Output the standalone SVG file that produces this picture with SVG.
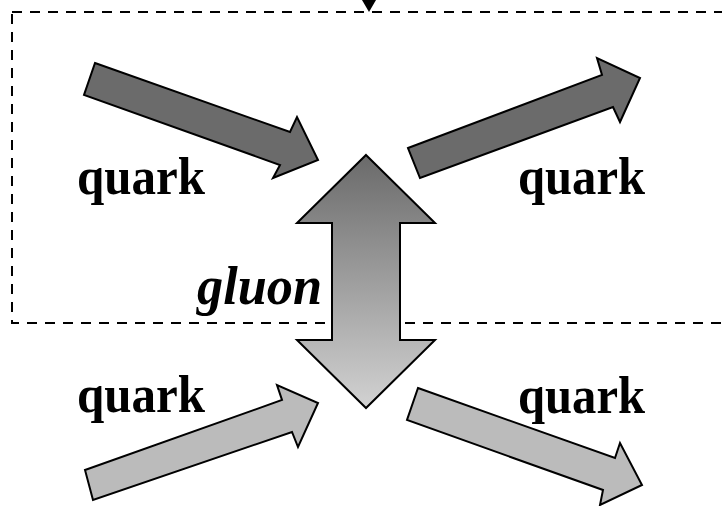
<svg xmlns="http://www.w3.org/2000/svg" width="722" height="506" viewBox="0 0 722 506">
<defs>
<linearGradient id="gg" x1="0" y1="0" x2="0" y2="1">
<stop offset="0" stop-color="#6a6a6a"/>
<stop offset="1" stop-color="#d2d2d2"/>
</linearGradient>
<style>
.box{fill:none;stroke:#000;stroke-width:2;stroke-dasharray:10 8}
.dark{fill:#6b6b6b;stroke:#000;stroke-width:2;stroke-linejoin:miter}
.light{fill:#bbbbbb;stroke:#000;stroke-width:2;stroke-linejoin:miter}
.q{font-family:"Liberation Serif",serif;font-weight:bold;font-size:52px;fill:#000}
.g{font-family:"Liberation Serif",serif;font-weight:bold;font-style:italic;font-size:54px;fill:#000}
</style>
</defs>
<g id="frame">
<rect class="box" x="12" y="12" width="730" height="311"/>
<polygon points="362,0 376,0 369,12" fill="#000"/>
</g>
<g id="connectors">
<polygon id="arrow-tl" class="dark" points="95,63 290,132 297,117 318,160 273,178 280,165 84,95"/>
<polygon id="arrow-tr" class="dark" points="408,148 602,75 597,58 640,78 620,122 613,107 420,178"/>
<polygon id="arrow-bl" class="light" points="85,470 282,400 277,385 318,403 298,447 292,432 93,500"/>
<polygon id="arrow-br" class="light" points="418,388 615,458 620,443 642,485 600,505 603,490 407,420"/>
</g>
<g id="gluon">
<polygon points="366,155 435,223 400,223 400,340 435,340 366,408 297,340 332,340 332,223 297,223" fill="url(#gg)" stroke="#000" stroke-width="2"/>
<text class="g" x="197" y="304" textLength="125" lengthAdjust="spacingAndGlyphs">gluon</text>
</g>
<g id="quark-tl"><text class="q" x="77" y="194" textLength="128" lengthAdjust="spacingAndGlyphs">quark</text></g>
<g id="quark-tr"><text class="q" x="518" y="194" textLength="127" lengthAdjust="spacingAndGlyphs">quark</text></g>
<g id="quark-bl"><text class="q" x="77" y="412" textLength="128" lengthAdjust="spacingAndGlyphs">quark</text></g>
<g id="quark-br"><text class="q" x="518" y="413" textLength="127" lengthAdjust="spacingAndGlyphs">quark</text></g>
</svg>
